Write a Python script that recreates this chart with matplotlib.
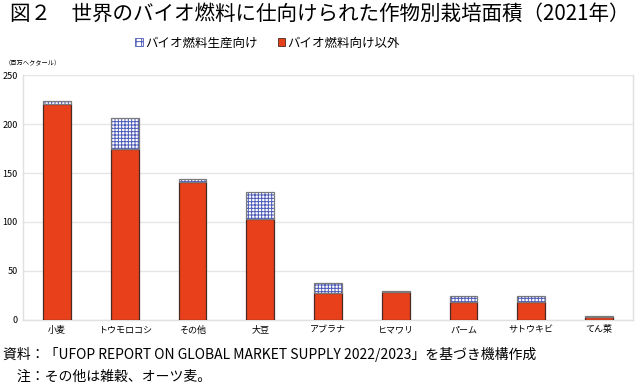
import matplotlib
matplotlib.use("Agg")
import matplotlib.pyplot as plt
from matplotlib.patches import Patch

plt.rcParams['font.family'] = ['Noto Sans CJK JP', 'DejaVu Sans']
plt.rcParams['hatch.linewidth'] = 0.7

categories = ["小麦", "トウモロコシ", "その他", "大豆", "アブラナ", "ヒマワリ", "パーム", "サトウキビ", "てん菜"]
non_bio = [220, 175, 141, 103, 28, 29, 18.5, 18.5, 3]
bio = [3.5, 31, 2.5, 28, 9.5, 0.3, 6, 5.5, 1]
series_names = ["バイオ燃料生産向け", "バイオ燃料向け以外"]
yticks = [0, 50, 100, 150, 200, 250]

red = '#e8401b'
red_edge = '#4a2a22'
blue = '#4d5ab8'

fig = plt.figure(figsize=(6.4, 3.85), dpi=100)
ax = fig.add_axes([0.036, 0.169, 0.953, 0.636])

x = list(range(len(categories)))
w = 0.41
ax.bar(x, non_bio, width=w, color=red, edgecolor=red_edge, linewidth=0.9, zorder=3)
ax.bar(x, bio, width=w, bottom=non_bio, color='white', edgecolor=blue, hatch='+++++', linewidth=0, zorder=3)
ax.bar(x, bio, width=w, bottom=non_bio, color='none', edgecolor='#7a7a7a', linewidth=0.9, zorder=4)

ax.set_ylim(0, 250)
ax.set_xlim(-0.5, len(categories) - 0.5)
ax.set_yticks(yticks)
ax.set_yticklabels([str(v) for v in yticks], fontsize=6.5)
ax.set_xticks(x)
ax.set_xticklabels(categories, fontsize=6.5)
ax.tick_params(axis='both', length=0, pad=4)
ax.yaxis.grid(True, color='#e6e6e6', linewidth=1.0, zorder=0)
for s in ['top']:
    ax.spines[s].set_visible(False)
for s in ['left', 'right', 'bottom']:
    ax.spines[s].set_color('#e0e0e0')
    ax.spines[s].set_linewidth(1.0)

fig.text(0.5, 0.963, "図２　世界のバイオ燃料に仕向けられた作物別栽培面積（2021年）",
         ha='center', va='center', fontsize=14.8)

handles = [Patch(facecolor='white', edgecolor=blue, hatch='+++', linewidth=0.6),
           Patch(facecolor=red, edgecolor=red_edge, linewidth=0.6)]
fig.legend(handles, series_names, loc='center', bbox_to_anchor=(0.418, 0.888), ncol=2,
           frameon=False, fontsize=9, handlelength=0.6, handleheight=0.6,
           handletextpad=0.2, columnspacing=1.6)

fig.text(0.008, 0.836, "（百万ヘクタール）", ha='left', va='center', fontsize=4.5)

fig.text(0.005, 0.078, "資料：「UFOP REPORT ON GLOBAL MARKET SUPPLY 2022/2023」を基づき機構作成",
         ha='left', va='center', fontsize=10)
fig.text(0.005, 0.022, "　注：その他は雑穀、オーツ麦。", ha='left', va='center', fontsize=10)

fig.savefig("out.png", dpi=100)
